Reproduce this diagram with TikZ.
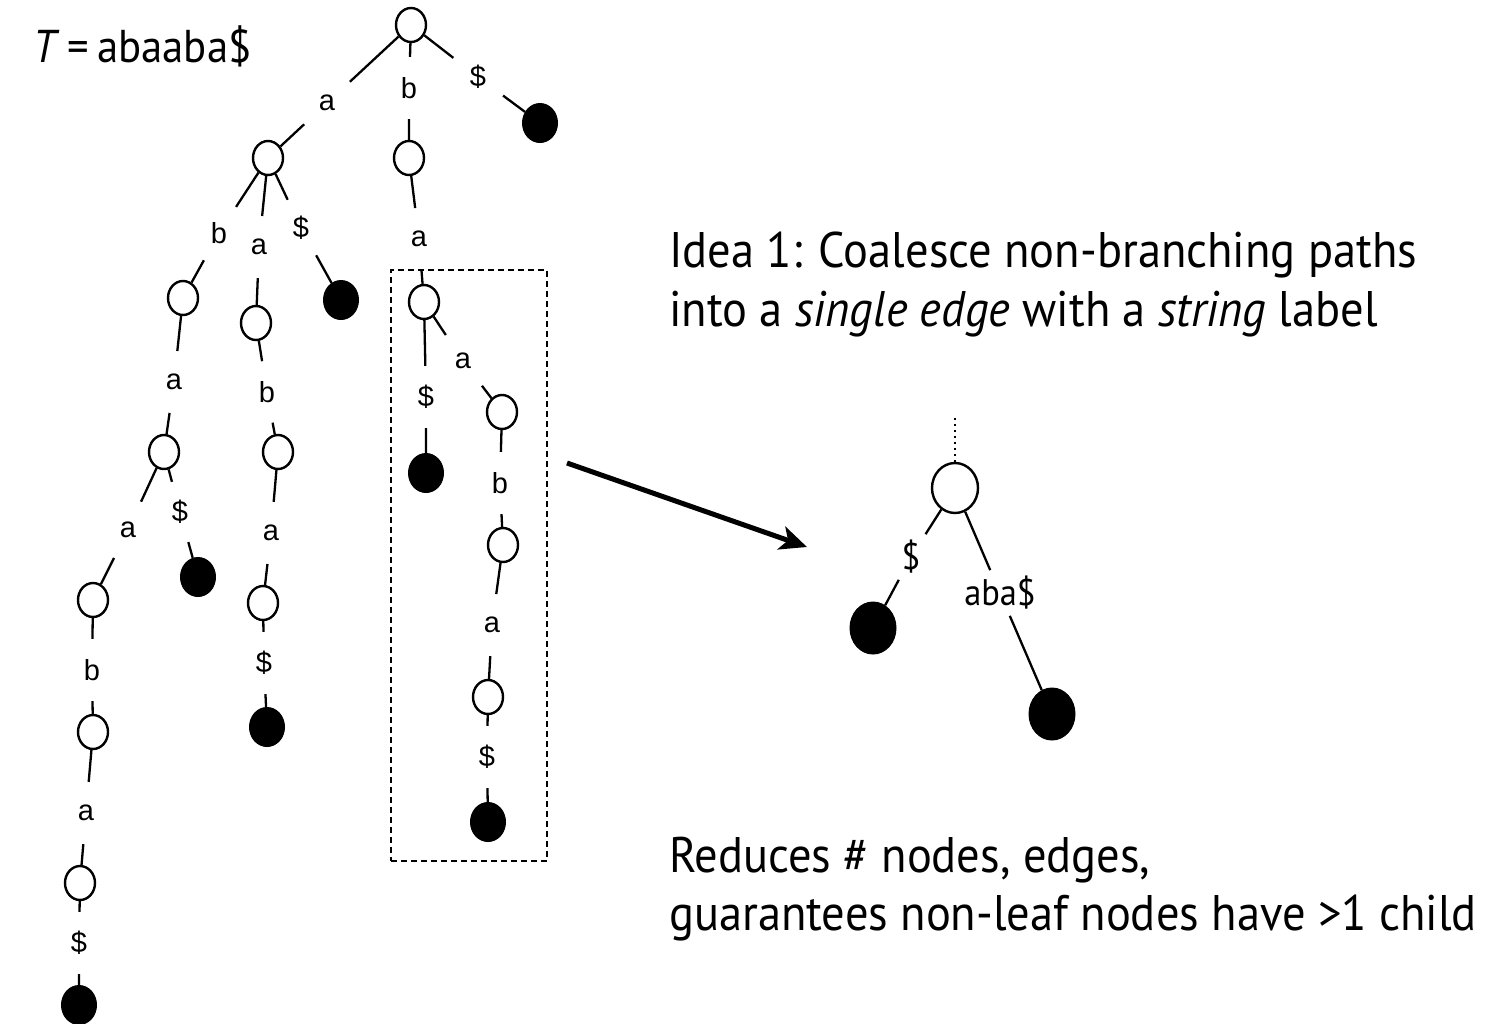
\documentclass[tikz,border=0pt]{standalone}
\usepackage{fontspec}
\setmainfont[FakeStretch=0.93]{PT Sans}
\newfontfamily\edgefont{Liberation Sans}
\usetikzlibrary{shapes.geometric,arrows.meta}
\begin{document}
\begin{tikzpicture}[x=1pt,y=-1pt,
  inode/.style={ellipse,draw,line width=2.4pt,fill=white,minimum width=30pt,minimum height=34pt,inner sep=0pt},
  leaf/.style={ellipse,fill=black,draw=black,line width=1pt,minimum width=35pt,minimum height=39pt,inner sep=0pt},
  lbl/.style={circle,minimum size=62pt,inner sep=0pt,font=\edgefont\fontsize{29}{31}\selectfont},
  rlbl/.style={rectangle,inner sep=6pt,font=\fontsize{37}{39}\selectfont},
  edge/.style={line width=2.3pt},
  bigtext/.style={anchor=base west,inner sep=0pt,font=\fontsize{50}{54}\selectfont},
]
\useasboundingbox[fill=white] (0,0) rectangle (1486,1023);

% the string
\node[anchor=base west,inner sep=0pt,font=\fontsize{46}{49}\selectfont] (str) at (33,62) {\textit{T}\kern8pt=\kern8pt abaaba\$};

% suffix trie of abaaba$
\node[inode] (R) at (411,25) {};
\node[lbl] (lR1) at (327,103) {a};
\node[lbl] (lR2) at (409,88) {b};
\node[lbl] (lR3) at (478,77) {\$};
\node[inode] (A) at (268,158) {};
\node[inode] (B) at (409,158) {};
\node[leaf] (L1) at (540,123) {};

\node[lbl] (lA1) at (219,233) {b};
\node[lbl] (lA2) at (259,247) {a};
\node[lbl] (lA3) at (301,228) {\$};
\node[inode] (AB) at (183,298) {};
\node[inode] (AA) at (256,323) {};
\node[leaf] (L2) at (341,300) {};

\node[lbl] (lB1) at (419,239) {a};
\node[inode] (BA) at (424,302) {};

\node[lbl] (lBA1) at (426,397) {\$};
\node[leaf] (L3) at (426,473) {};
\node[lbl] (lBA2) at (463,361) {a};
\node[inode] (BAA) at (502,412) {};
\node[lbl] (lBAA) at (500,483) {b};
\node[inode] (BAAB) at (503,545) {};
\node[lbl] (lBAAB) at (492,625) {a};
\node[inode] (BAABA) at (488,697) {};
\node[lbl] (lBAABA) at (487,757) {\$};
\node[leaf] (L4) at (488,822) {};

\node[lbl] (lAB) at (174,382) {a};
\node[inode] (ABA) at (164,452) {};
\node[lbl] (lABA1) at (128,530) {a};
\node[lbl] (lABA2) at (180,512) {\$};
\node[leaf] (L5) at (198,577) {};
\node[inode] (ABAA) at (93,600) {};
\node[lbl] (lABAA) at (92,670) {b};
\node[inode] (ABAAB) at (93,732) {};
\node[lbl] (lABAAB) at (86,813) {a};
\node[inode] (ABAABA) at (80,883) {};
\node[lbl] (lABAABA) at (79,943) {\$};
\node[leaf] (L6) at (79,1005) {};

\node[lbl] (lAA) at (267,392) {b};
\node[inode] (AAB) at (278,452) {};
\node[lbl] (lAAB) at (271,533) {a};
\node[inode] (AABA) at (263,603) {};
\node[lbl] (lAABA) at (264,663) {\$};
\node[leaf] (L7) at (267,727) {};

% labelled edges, broken around their labels
\draw[edge] (R) -- (lR1) -- (A);
\draw[edge] (R) -- (lR2) -- (B);
\draw[edge] (R) -- (lR3) -- (L1);
\draw[edge] (A) -- (lA1) -- (AB);
\draw[edge] (A) -- (lA2) -- (AA);
\draw[edge] (A) -- (lA3) -- (L2);
\draw[edge] (B) -- (lB1) -- (BA);
\draw[edge] (BA) -- (lBA1) -- (L3);
\draw[edge] (BA) -- (lBA2) -- (BAA);
\draw[edge] (BAA) -- (lBAA) -- (BAAB);
\draw[edge] (BAAB) -- (lBAAB) -- (BAABA);
\draw[edge] (BAABA) -- (lBAABA) -- (L4);
\draw[edge] (AB) -- (lAB) -- (ABA);
\draw[edge] (ABA) -- (lABA1) -- (ABAA);
\draw[edge] (ABA) -- (lABA2) -- (L5);
\draw[edge] (ABAA) -- (lABAA) -- (ABAAB);
\draw[edge] (ABAAB) -- (lABAAB) -- (ABAABA);
\draw[edge] (ABAABA) -- (lABAABA) -- (L6);
\draw[edge] (AA) -- (lAA) -- (AAB);
\draw[edge] (AAB) -- (lAAB) -- (AABA);
\draw[edge] (AABA) -- (lAABA) -- (L7);

% highlighted non-branching path
\node[draw,dash pattern=on 6pt off 4pt,line width=2.5pt,minimum width=156pt,minimum height=591pt,inner sep=0pt] (box) at (469,565.5) {};

% arrow to the coalesced version
\coordinate (arS) at (567,463);
\coordinate (arE) at (807,547);
\draw[line width=5pt,-{Stealth[length=27pt,width=24pt,inset=7pt]}] (arS) -- (arE);

% coalesced subtree
\node[inode,minimum width=46pt,minimum height=50pt] (N) at (955,488) {};
\coordinate (Ntop) at (955,418);
\node[leaf,minimum width=46pt,minimum height=52pt] (NL1) at (873,628) {};
\node[leaf,minimum width=46pt,minimum height=52pt] (NL2) at (1052,714) {};
\node[rlbl] (nl1) at (911,557) {\$};
\node[rlbl] (nl2) at (1000,593) {aba\$};
\draw[line width=2.2pt,dash pattern=on 2pt off 4pt] (Ntop) -- (N);
\draw[edge] (N) -- (nl1) -- (NL1);
\draw[edge] (N) -- (nl2) -- (NL2);

% explanations
\node[bigtext] (idea1) at (669,267) {Idea 1: Coalesce non-branching paths};
\node[bigtext] (idea2) at (669,326) {into a \textit{single edge} with a \textit{string} label};
\node[bigtext] (red1) at (669,872) {Reduces \# nodes, edges,};
\node[bigtext] (red2) at (669,930) {guarantees non-leaf nodes have >1 child};
\end{tikzpicture}
\end{document}
